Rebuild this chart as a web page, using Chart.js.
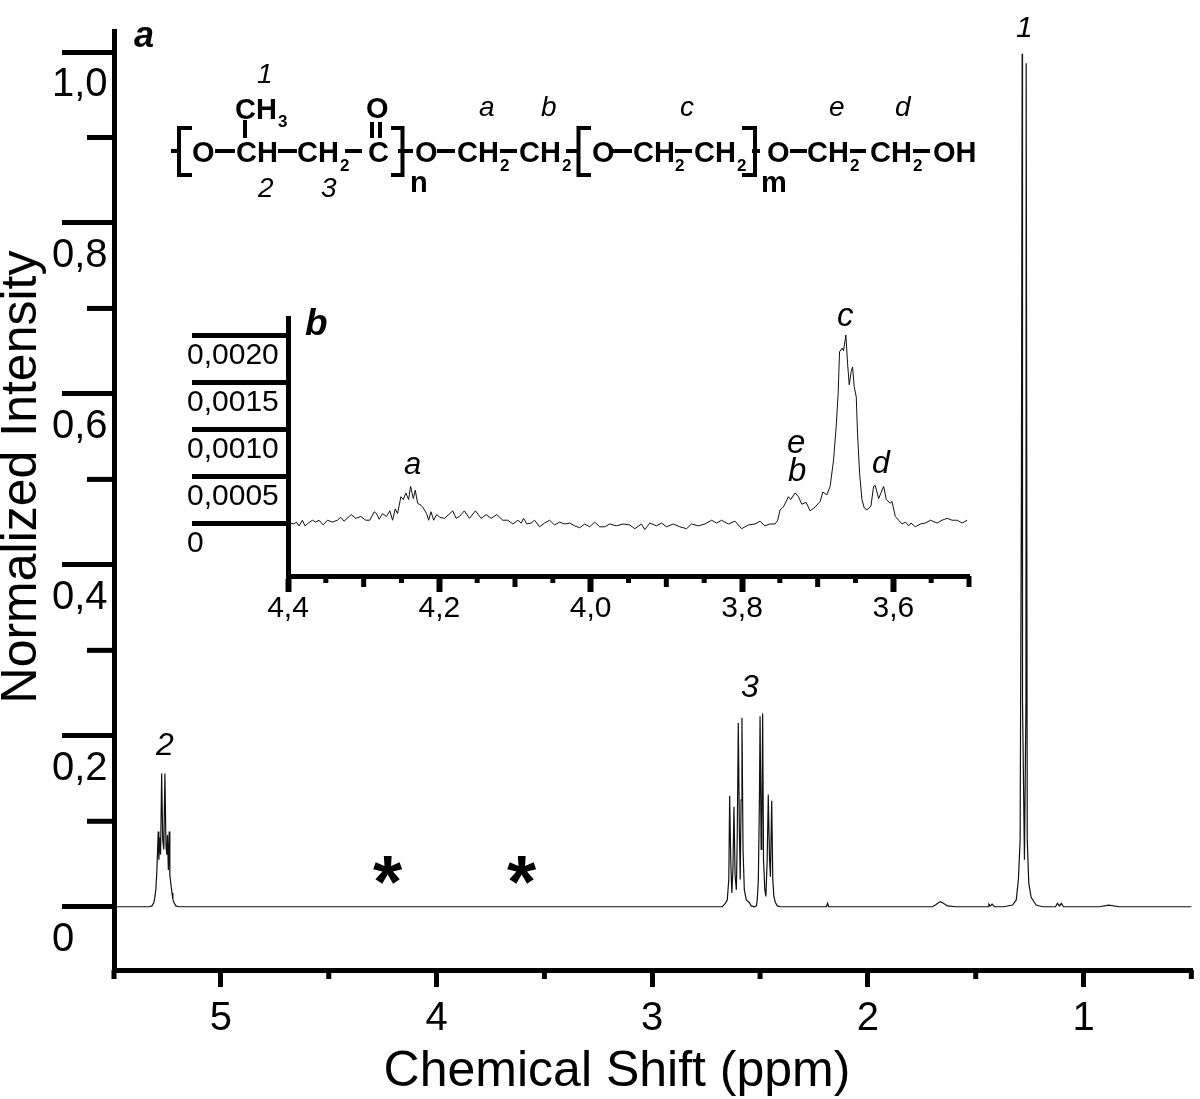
<!DOCTYPE html>
<html>
<head>
<meta charset="utf-8">
<title>NMR spectrum</title>
<script src="https://cdn.jsdelivr.net/npm/chart.js"></script>
<style>
  html, body { margin: 0; padding: 0; background: #fff; }
  #wrap { position: relative; width: 1200px; height: 1099px; overflow: hidden; }
  canvas { position: absolute; display: block; }
  #main-chart { left: 0; top: 0; }
  #inset-chart { left: 180px; top: 280px; }
</style>
</head>
<body>
<div id="wrap">
  <canvas id="main-chart" width="1200" height="1099"></canvas>
  <canvas id="inset-chart" width="810" height="355"></canvas>
</div>
<script>
// main spectrum (ppm / normalized intensity)
const mainShift = [
  5.483, 5.42, 5.36, 5.334, 5.320, 5.311, 5.306, 5.302, 5.297, 5.291, 5.288, 5.283, 5.280,
  5.275, 5.270, 5.265, 5.260, 5.255, 5.251, 5.248, 5.244, 5.240, 5.237, 5.232, 5.227,
  5.223, 5.218, 5.209, 5.195, 5.0, 4.8, 4.6, 4.4, 4.25, 4.0, 3.8, 3.65, 3.4, 3.1, 2.9, 2.75,
  2.675, 2.661, 2.652, 2.645, 2.641, 2.636, 2.631, 2.626, 2.621, 2.616, 2.610, 2.606,
  2.601, 2.596, 2.592, 2.588, 2.584, 2.579, 2.573, 2.564, 2.550, 2.541, 2.527, 2.517,
  2.513, 2.508, 2.503, 2.500, 2.495, 2.492, 2.488, 2.484, 2.478, 2.473, 2.467, 2.462,
  2.456, 2.452, 2.446, 2.441, 2.436, 2.429, 2.420, 2.406, 2.3, 2.192, 2.187, 2.182,
  2.0, 1.8, 1.701, 1.687, 1.665, 1.650, 1.631, 1.591, 1.5, 1.441, 1.439, 1.432, 1.424, 1.413,
  1.37, 1.329, 1.312, 1.302, 1.294, 1.288, 1.2845, 1.283, 1.274, 1.267, 1.266, 1.261, 1.254,
  1.243, 1.220, 1.190, 1.130, 1.121, 1.111, 1.103, 1.093, 0.926, 0.884, 0.833, 0.7, 0.5
];
const mainIntensity = [
  0, 0, 0, 0, 0.001, 0.005, 0.012, 0.020, 0.043, 0.088, 0.055, 0.081, 0.061,
  0.156, 0.078, 0.067, 0.156, 0.072, 0.061, 0.084, 0.043, 0.088, 0.037, 0.026, 0.016,
  0.009, 0.005, 0.001, 0, 0, 0, 0, 0, 0, 0, 0, 0, 0, 0, 0, 0,
  0, 0.004, 0.008, 0.032, 0.130, 0.055, 0.016, 0.043, 0.117, 0.037, 0.020, 0.078,
  0.215, 0.090, 0.032, 0.125, 0.221, 0.067, 0.020, 0.008, 0.005, 0.001, 0, 0.001,
  0.008, 0.032, 0.125, 0.223, 0.067, 0.090, 0.226, 0.055, 0.020, 0.012, 0.055, 0.131,
  0.055, 0.035, 0.124, 0.032, 0.012, 0.005, 0.001, 0, 0, 0, 0.004, 0,
  0, 0, 0, 0.002, 0.006, 0.004, 0.001, 0, 0, 0, 0.003, 0.001, 0.003, 0,
  0, 0.002, 0.008, 0.032, 0.078, 0.5, 0.998, 0.242, 0.055, 0.242, 0.987, 0.078, 0.028,
  0.011, 0.002, 0, 0, 0.004, 0.001, 0.004, 0, 0, 0.002, 0, 0, 0
];

// inset trace, 4.4 to 3.5 ppm
const insetShift = [
  4.3978, 4.3920, 4.3890, 4.3854, 4.3810, 4.3775, 4.3731, 4.3678, 4.3634, 4.3590, 4.3536, 4.3479,
  4.3413, 4.3347, 4.3303, 4.3259, 4.3192, 4.3166, 4.3104, 4.3038, 4.2972, 4.2919, 4.2861, 4.2830,
  4.2795, 4.2751, 4.2698, 4.2654, 4.2618, 4.2583, 4.2552, 4.2508, 4.2477, 4.2442, 4.2406, 4.2380,
  4.2344, 4.2318, 4.2287, 4.2243, 4.2212, 4.2168, 4.2141, 4.2110, 4.2075, 4.2035, 4.1991, 4.1933,
  4.1876, 4.1823, 4.1779, 4.1735, 4.1669, 4.1602, 4.1523, 4.1448, 4.1382, 4.1315, 4.1240, 4.1161,
  4.1095, 4.1028, 4.0962, 4.0918, 4.0887, 4.0843, 4.0786, 4.0741, 4.0675, 4.0609, 4.0543, 4.0477,
  4.0410, 4.0344, 4.0278, 4.0212, 4.0145, 4.0079, 4.0013, 3.9947, 3.9880, 3.9815, 3.9748, 3.9660,
  3.9572, 3.9484, 3.9417, 3.9329, 3.9285, 3.9219, 3.9130, 3.9064, 3.8998, 3.8910, 3.8821, 3.8733,
  3.8667, 3.8579, 3.8490, 3.8402, 3.8336, 3.8270, 3.8181, 3.8093, 3.8005, 3.7916, 3.7828, 3.7762,
  3.7696, 3.7629, 3.7563, 3.7528, 3.7497, 3.7453, 3.7387, 3.7356, 3.7298, 3.7254, 3.7210, 3.7153,
  3.7100, 3.7033, 3.6967, 3.6932, 3.6879, 3.6835, 3.6790, 3.6755, 3.6729, 3.6711, 3.6676, 3.6658,
  3.6627, 3.6605, 3.6583, 3.6557, 3.6539, 3.6517, 3.6490, 3.6473, 3.6446, 3.6415, 3.6384, 3.6349,
  3.6296, 3.6261, 3.6239, 3.6194, 3.6164, 3.6128, 3.6093, 3.6040, 3.6018, 3.5974, 3.5930, 3.5885,
  3.5841, 3.5797, 3.5766, 3.5709, 3.5643, 3.5576, 3.5510, 3.5422, 3.5356, 3.5289, 3.5223, 3.5157,
  3.5091, 3.5024
];
const insetIntensity = [
  0.00001, 0, 0.00002, -0.00002, 0.00004, -0.00002, 0.00001, 0.00004, 0.00002, 0.00004, -0.00001, 0.00004,
  0.00002, 0.00004, 0.00007, 0.00003, 0.00008, 0.0001, 0.00006, 0.00008, 0.00004, 0.00004, 0.00013, 0.00011,
  0.00005, 0.00011, 0.00008, 0.00014, 0.00004, 0.00016, 0.00011, 0.00029, 0.00026, 0.00033, 0.00026, 0.0004,
  0.00027, 0.00036, 0.00022, 0.0002, 0.00017, 0.00011, 0.00004, 0.00013, 0.00004, 0.0001, 0.00007, 0.00006,
  0.0001, 0.00014, 0.00006, 0.00008, 0.00014, 0.00006, 0.00014, 0.00006, 0.0001, 0.00006, 0.0001, 0.00004,
  0.00004, 0, 0.00004, 0.00001, 0.00006, 0, 0.00001, 0.00004, -0.00003, 0.00001, 0.00004, -0.00001,
  0.00002, 0, 0.00001, -0.00002, -0.00004, 0, -0.00003, 0.00002, -0.00003, -0.00003, 0, -0.00002,
  0, -0.00001, -0.00005, 0, -0.00006, 0.00001, -0.00002, 0.00001, -0.00003, 0, -0.00003, -0.00005,
  0, -0.00002, 0, 0.00004, 0.00001, 0.00004, 0, 0.00003, -0.00005, -0.00001, 0, 0.00003,
  -0.00002, 0, 0, 0.00004, 0.00015, 0.00018, 0.00029, 0.00026, 0.00033, 0.00029, 0.00021, 0.00023,
  0.00014, 0.00018, 0.00024, 0.00034, 0.00031, 0.0004, 0.00068, 0.00104, 0.00139, 0.00183, 0.00187, 0.00184,
  0.00201, 0.00171, 0.00148, 0.00162, 0.00167, 0.00146, 0.00135, 0.00096, 0.00054, 0.00026, 0.00017, 0.00015,
  0.00019, 0.0004, 0.00041, 0.00027, 0.00033, 0.0004, 0.00026, 0.00022, 0.00024, 0.00008, 0.00004, 0,
  0.00002, -0.00002, 0.00001, -0.00003, 0, 0.00001, 0.00004, 0.00001, 0.00004, 0.00006, 0.00004, 0.00004,
  0.00001, 0.00004
];

// ticks
const xMajorTicks = [5, 4, 3, 2, 1];
const xTickLabels = ['5', '4', '3', '2', '1'];
const xMinorTicks = [5.496, 4.5, 3.5, 2.5, 1.5, 0.5];
const yMajorTicks = [0, 0.2, 0.4, 0.6, 0.8, 1.0];
const yTickLabels = ['0', '0,2', '0,4', '0,6', '0,8', '1,0'];
const yMinorTicks = [0.1, 0.3, 0.5, 0.7, 0.9];
const insetXMajor = [4.4, 4.2, 4.0, 3.8, 3.6];
const insetXLabels = ['4,4', '4,2', '4,0', '3,8', '3,6'];
const insetXMid = [4.3, 4.1, 3.9, 3.7, 3.5];
const insetXSmall = [4.35, 4.25, 4.15, 4.05, 3.95, 3.85, 3.75, 3.65, 3.55];
const insetYTicks = [0, 0.0005, 0.001, 0.0015, 0.002];
const insetYLabels = ['0', '0,0005', '0,0010', '0,0015', '0,0020'];

const FONT = '"Liberation Sans", Arial, sans-serif';
const INK = '#000';

// labels over the main plot: text, x, baseline y, font
const SUB = `bold 17px ${FONT}`;
const BOLD = `bold 29px ${FONT}`;
const ITAL = `italic 28px ${FONT}`;
const mainLabels = [
  ['a', 134, 47, `italic bold 36px ${FONT}`],
  ['1', 1016, 37, `italic 30px ${FONT}`],
  ['2', 156, 755, `italic 32px ${FONT}`],
  ['3', 741, 697, `italic 32px ${FONT}`],
  ['1', 257, 83, ITAL], ['2', 258, 197, ITAL], ['3', 321, 197, ITAL],
  ['a', 479, 116, ITAL], ['b', 541, 116, ITAL], ['c', 680, 116, ITAL],
  ['e', 829, 116, ITAL], ['d', 895, 116, ITAL],
  ['*', 373, 907, `bold 75px ${FONT}`], ['*', 507, 907, `bold 75px ${FONT}`],
  // formula
  ['CH', 235, 119, BOLD], ['3', 278, 127, SUB],
  ['O', 192, 162, BOLD], ['CH', 236, 162, BOLD], ['CH', 297, 162, BOLD], ['2', 340, 171, SUB],
  ['O', 366, 118, BOLD], ['C', 368, 162, BOLD], ['n', 410, 192, BOLD],
  ['O', 415, 162, BOLD], ['CH', 457, 162, BOLD], ['2', 500, 171, SUB],
  ['CH', 519, 162, BOLD], ['2', 562, 171, SUB],
  ['O', 592, 162, BOLD], ['CH', 633, 162, BOLD], ['2', 675, 171, SUB],
  ['CH', 694, 162, BOLD], ['2', 737, 171, SUB], ['m', 761, 192, BOLD],
  ['O', 767, 162, BOLD], ['CH', 807, 162, BOLD], ['2', 850, 171, SUB],
  ['CH', 870, 162, BOLD], ['2', 913, 171, SUB], ['OH', 933, 162, BOLD]
];
// bonds and brackets of the formula, as polylines
const formulaLines = [
  [[171, 151], [180, 151]], [[215, 151], [235, 151]], [[278, 151], [297, 151]],
  [[345, 151], [362, 151]], [[398, 151], [413, 151]], [[437, 151], [455, 151]],
  [[500, 151], [517, 151]], [[566, 151], [580, 151]], [[613, 151], [632, 151]],
  [[675, 151], [692, 151]], [[752, 151], [760, 151]], [[790, 151], [807, 151]],
  [[850, 151], [866, 151]], [[913, 151], [930, 151]],
  [[245, 120], [245, 138]], [[372, 122], [372, 138]], [[380, 122], [380, 138]],
  [[192, 128], [179, 128], [179, 175], [192, 175]],
  [[391, 128], [402.5, 128], [402.5, 175], [391, 175]],
  [[591, 128], [578.5, 128], [578.5, 175], [591, 175]],
  [[742, 128], [755, 128], [755, 175], [742, 175]]
];
const insetLabels = [
  ['b', 125, 55, `italic bold 37px ${FONT}`],
  ['a', 224, 194, `italic 31px ${FONT}`],
  ['c', 657, 46, `italic 33px ${FONT}`],
  ['e', 607, 173, `italic 33px ${FONT}`],
  ['b', 608, 201, `italic 33px ${FONT}`],
  ['d', 692, 193, `italic 32px ${FONT}`]
];

function drawLabels(ctx, labels) {
  ctx.save();
  ctx.fillStyle = INK;
  ctx.textAlign = 'left';
  ctx.textBaseline = 'alphabetic';
  labels.forEach(([text, x, y, font]) => {
    ctx.font = font;
    ctx.fillText(text, x, y);
  });
  ctx.restore();
}

// extra tick marks in other lengths than the native ones
function drawTicks(ctx, scale, values, len, width) {
  ctx.save();
  ctx.fillStyle = INK;
  values.forEach(v => {
    const p = scale.getPixelForValue(v);
    if (scale.isHorizontal()) {
      ctx.fillRect(p - width / 2, scale.top, width, len);
    } else {
      ctx.fillRect(scale.right - len, p - width / 2, len, width);
    }
  });
  ctx.restore();
}

const mainDecor = {
  id: 'mainDecor',
  afterDraw(chart) {
    const ctx = chart.ctx;
    drawTicks(ctx, chart.scales.x, xMinorTicks, 9, 5);
    drawTicks(ctx, chart.scales.y, yMinorTicks, 27, 5);
    drawLabels(ctx, mainLabels);

    ctx.save();
    ctx.strokeStyle = INK;
    ctx.lineWidth = 4;
    ctx.lineJoin = 'miter';
    formulaLines.forEach(points => {
      ctx.beginPath();
      points.forEach(([x, y], i) => (i ? ctx.lineTo(x, y) : ctx.moveTo(x, y)));
      ctx.stroke();
    });
    ctx.fillStyle = INK;
    ctx.font = `50px ${FONT}`;
    ctx.textAlign = 'center';
    ctx.fillText('Chemical Shift (ppm)', 617, 1086);
    ctx.translate(36, 477);
    ctx.rotate(-Math.PI / 2);
    ctx.fillText('Normalized Intensity', 0, 0);
    ctx.restore();
  }
};

const insetDecor = {
  id: 'insetDecor',
  afterDraw(chart) {
    const ctx = chart.ctx;
    drawTicks(ctx, chart.scales.x, insetXMid, 11, 5);
    drawTicks(ctx, chart.scales.x, insetXSmall, 7, 5);
    drawLabels(ctx, insetLabels);
  }
};

function fixedSize(width, height) {
  return scale => {
    if (width) scale.width = width;
    if (height) scale.height = height;
    scale.paddingTop = scale.paddingBottom = scale.paddingLeft = scale.paddingRight = 0;
  };
}

new Chart(document.getElementById('main-chart'), {
  type: 'line',
  data: {
    datasets: [{
      data: mainShift.map((x, i) => ({ x, y: mainIntensity[i] })),
      borderColor: '#111',
      borderWidth: 1.2,
      pointRadius: 0,
      tension: 0
    }]
  },
  plugins: [mainDecor],
  options: {
    responsive: false,
    animation: false,
    layout: { padding: { left: 52, top: 31, right: 8, bottom: 0 } },
    plugins: { legend: { display: false }, tooltip: { enabled: false } },
    scales: {
      x: {
        type: 'linear',
        reverse: true,
        min: 0.497,
        max: 5.496,
        afterBuildTicks: s => { s.ticks = xMajorTicks.map(value => ({ value })); },
        afterFit: fixedSize(0, 129),
        border: { display: true, width: 5, color: INK },
        grid: { drawOnChartArea: false, drawTicks: true, tickLength: 17, tickWidth: 5, tickColor: INK },
        ticks: {
          autoSkip: false,
          maxRotation: 0,
          minRotation: 0,
          padding: 8,
          color: INK,
          font: { family: FONT, size: 40 },
          callback: (v, i) => xTickLabels[i]
        }
      },
      y: {
        type: 'linear',
        min: -0.074,
        max: 1.0246,
        afterBuildTicks: s => { s.ticks = yMajorTicks.map(value => ({ value })); },
        afterFit: fixedSize(62, 0),
        border: { display: true, width: 5, color: INK },
        grid: { drawOnChartArea: false, drawTicks: true, tickLength: 52, tickWidth: 5, tickColor: INK },
        ticks: {
          autoSkip: false,
          crossAlign: 'far',
          labelOffset: 33,
          color: INK,
          font: { family: FONT, size: 40 },
          callback: (v, i) => yTickLabels[i]
        }
      }
    }
  }
});

new Chart(document.getElementById('inset-chart'), {
  type: 'line',
  data: {
    datasets: [{
      data: insetShift.map((x, i) => ({ x, y: insetIntensity[i] })),
      borderColor: '#111',
      borderWidth: 1,
      pointRadius: 0,
      tension: 0
    }]
  },
  plugins: [insetDecor],
  options: {
    responsive: false,
    animation: false,
    layout: { padding: { left: 7, top: 38, right: 21, bottom: 0 } },
    plugins: { legend: { display: false }, tooltip: { enabled: false } },
    scales: {
      x: {
        type: 'linear',
        reverse: true,
        min: 3.5,
        max: 4.4,
        afterBuildTicks: s => { s.ticks = insetXMajor.map(value => ({ value })); },
        afterFit: fixedSize(0, 59),
        border: { display: true, width: 5, color: INK },
        grid: { drawOnChartArea: false, drawTicks: true, tickLength: 16, tickWidth: 6, tickColor: INK },
        ticks: {
          autoSkip: false,
          maxRotation: 0,
          minRotation: 0,
          padding: -1,
          color: INK,
          font: { family: FONT, size: 30 },
          callback: (v, i) => insetXLabels[i]
        }
      },
      y: {
        type: 'linear',
        min: -0.000553,
        max: 0.00219,
        afterBuildTicks: s => { s.ticks = insetYTicks.map(value => ({ value })); },
        afterFit: fixedSize(101, 0),
        border: { display: true, width: 5, color: INK },
        grid: { drawOnChartArea: false, drawTicks: true, tickLength: 96, tickWidth: 5, tickColor: INK },
        ticks: {
          autoSkip: false,
          crossAlign: 'far',
          labelOffset: 20,
          color: INK,
          font: { family: FONT, size: 30 },
          callback: (v, i) => insetYLabels[i]
        }
      }
    }
  }
});
</script>
</body>
</html>
